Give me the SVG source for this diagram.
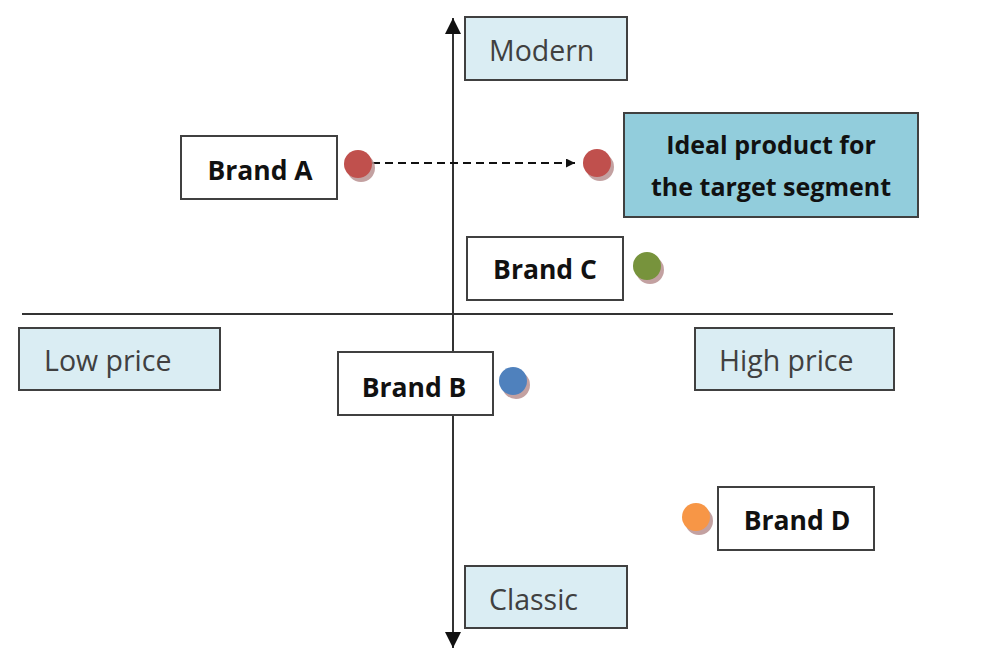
<svg xmlns="http://www.w3.org/2000/svg" width="986" height="650" viewBox="0 0 986 650">
  <style>
    .lbl { fill: #daedf3; stroke: #404040; stroke-width: 2; }
    .brand { fill: #ffffff; stroke: #404040; stroke-width: 2; }
    .ideal { fill: #92cddc; stroke: #404040; stroke-width: 2; }
    .axis { stroke: #333333; stroke-width: 2; fill: none; }
    .lt { font-family: "Open Sans", Lato, sans-serif; font-size: 28.5px; fill: #404040; }
    .bt { font-family: "Open Sans", Lato, sans-serif; font-size: 26.5px; font-weight: bold; fill: #111111; text-anchor: middle; }
    .it { font-size: 25px; }
    .shadow { fill: #b89090; opacity: 0.85; }
  </style>
  <defs>
    <marker id="arr" viewBox="0 0 10 10" refX="10" refY="5" markerWidth="9" markerHeight="9" markerUnits="userSpaceOnUse" orient="auto">
      <path d="M0,0 L10,5 L0,10 z" fill="#111111"/>
    </marker>
    <marker id="axisArr" viewBox="0 0 10 10" refX="10" refY="5" markerWidth="16" markerHeight="16" markerUnits="userSpaceOnUse" orient="auto">
      <path d="M0,0 L10,5 L0,10 z" fill="#111111"/>
    </marker>
  </defs>

  <!-- axes and connectors -->
  <g id="connectors">
    <line class="axis" x1="22" y1="314" x2="893" y2="314"/>
    <line class="axis" x1="453" y1="330" x2="453" y2="18" marker-end="url(#axisArr)"/>
    <line class="axis" x1="453" y1="300" x2="453" y2="648" marker-end="url(#axisArr)"/>
    <line x1="372" y1="163" x2="575" y2="163" stroke="#111111" stroke-width="2" stroke-dasharray="8,5" marker-end="url(#arr)"/>
  </g>

  <g id="modern">
    <rect class="lbl" x="465" y="17" width="162" height="63"/>
    <text class="lt" x="489" y="61">Modern</text>
  </g>
  <g id="classic">
    <rect class="lbl" x="465" y="566" width="162" height="62"/>
    <text class="lt" x="489" y="610">Classic</text>
  </g>
  <g id="low-price">
    <rect class="lbl" x="19" y="328" width="201" height="62"/>
    <text class="lt" x="44" y="371">Low price</text>
  </g>
  <g id="high-price">
    <rect class="lbl" x="695" y="328" width="199" height="62"/>
    <text class="lt" x="719" y="371">High price</text>
  </g>

  <g id="brand-a">
    <rect class="brand" x="181" y="136" width="156" height="63"/>
    <text class="bt" x="260" y="180">Brand A</text>
    <circle class="shadow" cx="361" cy="168" r="14"/>
    <circle cx="358" cy="164" r="14" fill="#c0504d"/>
  </g>

  <g id="ideal">
    <circle class="shadow" cx="600" cy="167" r="14"/>
    <circle cx="597" cy="163" r="14" fill="#c0504d"/>
    <rect class="ideal" x="624" y="113" width="294" height="104"/>
    <text class="bt it" x="771" y="154">Ideal product for</text>
    <text class="bt it" x="771" y="196">the target segment</text>
  </g>

  <g id="brand-c">
    <rect class="brand" x="467" y="237" width="156" height="63"/>
    <text class="bt" x="545" y="279">Brand C</text>
    <circle class="shadow" cx="650" cy="270" r="14"/>
    <circle cx="647" cy="266" r="14" fill="#77933c"/>
  </g>

  <g id="brand-b">
    <rect class="brand" x="338" y="352" width="155" height="63"/>
    <text class="bt" x="414" y="397">Brand B</text>
    <circle class="shadow" cx="516" cy="385" r="14"/>
    <circle cx="513" cy="381" r="14" fill="#4f81bd"/>
  </g>

  <g id="brand-d">
    <circle class="shadow" cx="699" cy="521" r="14"/>
    <circle cx="696" cy="517" r="14" fill="#f79646"/>
    <rect class="brand" x="718" y="487" width="156" height="63"/>
    <text class="bt" x="797" y="530">Brand D</text>
  </g>
</svg>
